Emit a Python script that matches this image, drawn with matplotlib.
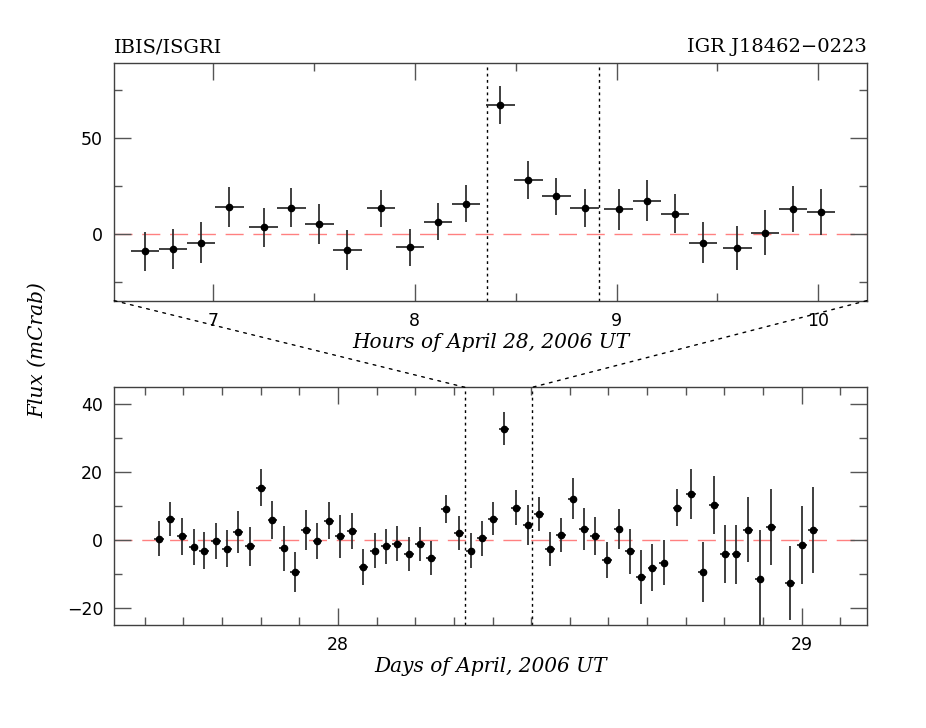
import numpy as np
import matplotlib.pyplot as plt
from matplotlib.patches import ConnectionPatch
from matplotlib.ticker import MultipleLocator

plt.rcParams['font.family'] = ['DejaVu Serif']

# ---- top panel: zoom on the flare (hours of April 28) ----
hours = [6.662, 6.802, 6.941, 7.081, 7.250, 7.388, 7.527, 7.666, 7.834, 7.975,
         8.113, 8.252, 8.424, 8.563, 8.702, 8.841, 9.010, 9.149, 9.288, 9.427,
         9.599, 9.736, 9.875, 10.014]
hour_flux = [-9.3, -8.0, -4.7, 13.8, 3.3, 13.6, 5.2, -8.6, 13.2, -7.2,
             6.3, 15.7, 67.3, 28.0, 19.5, 13.4, 12.7, 17.3, 10.5, -4.7,
             -7.5, 0.5, 12.7, 11.3]
hour_err = [10.2, 10.3, 10.8, 10.4, 10.3, 10.1, 10.5, 10.5, 9.7, 9.8,
            9.6, 9.8, 9.8, 10.1, 9.7, 9.9, 10.7, 10.5, 10.3, 10.6,
            11.5, 11.7, 12.0, 12.0]
hour_halfbin = 0.07
flare_marks_hr = [8.357, 8.912]
hour_lim = (6.51, 10.24)

# ---- bottom panel: ScW light curve (days of April 2006) ----
days = [27.614, 27.639, 27.664, 27.689, 27.712, 27.737, 27.761, 27.785, 27.810, 27.834,
        27.859, 27.883, 27.908, 27.932, 27.956, 27.981, 28.004, 28.030, 28.055, 28.079,
        28.103, 28.128, 28.154, 28.177, 28.201, 28.232, 28.261, 28.286, 28.310, 28.335,
        28.358, 28.384, 28.409, 28.433, 28.457, 28.481, 28.506, 28.531, 28.555, 28.580,
        28.605, 28.629, 28.654, 28.678, 28.702, 28.732, 28.761, 28.786, 28.810, 28.835,
        28.859, 28.884, 28.909, 28.934, 28.975, 29.000, 29.024]
day_flux = [0.4, 6.2, 1.1, -2.0, -3.1, -0.2, -2.5, 2.3, -1.8, 15.4,
            6.0, -2.4, -9.5, 2.9, -0.3, 5.7, 1.1, 2.7, -7.9, -3.1,
            -1.8, -1.1, -4.1, -1.2, -5.3, 9.2, 2.1, -3.1, 0.5, 6.3,
            32.8, 9.6, 4.4, 7.7, -2.6, 1.6, 12.2, 3.2, 1.2, -5.8,
            3.3, -3.3, -10.8, -8.1, -6.6, 9.6, 13.6, -9.4, 10.3, -4.0,
            -4.2, 3.1, -11.5, 3.9, -12.6, -1.5, 3.0]
day_err = [5.1, 5.0, 5.5, 5.2, 5.4, 5.3, 5.4, 6.2, 5.8, 5.5,
           5.6, 6.6, 5.9, 5.9, 5.4, 5.5, 6.4, 5.2, 5.2, 5.1,
           5.1, 5.2, 5.1, 5.1, 4.9, 4.1, 5.1, 5.2, 5.1, 4.8,
           4.9, 5.3, 5.8, 5.0, 5.1, 5.0, 6.0, 6.2, 5.7, 5.3,
           6.0, 6.7, 7.9, 6.9, 6.7, 5.4, 7.3, 8.9, 8.5, 8.5,
           8.7, 9.5, 14.4, 11.2, 11.0, 11.5, 12.7]
day_halfbin = 0.0105
zoom_marks_day = [28.274, 28.419]
day_lim = (27.518, 29.140)

FRAME = '#404040'
ERR = '#303030'
ZERO = '#ff8080'

fig = plt.figure(figsize=(9.26, 7.28), dpi=100)
ax1 = fig.add_axes([0.1234, 0.587, 0.8126, 0.326])
ax2 = fig.add_axes([0.1234, 0.1415, 0.8126, 0.3265])

def style(ax):
    for s in ax.spines.values():
        s.set_color(FRAME)
        s.set_linewidth(1.0)
    ax.tick_params(which='both', direction='in', top=True, right=True,
                   color='#555555', labelsize=12.5, pad=8)
    ax.tick_params(which='major', length=12, width=1.0)
    ax.tick_params(which='minor', length=6, width=1.0)
    for lab in ax.get_xticklabels() + ax.get_yticklabels():
        lab.set_family('DejaVu Sans')

# top
ax1.axhline(0, color=ZERO, lw=1.0, dashes=(13, 7), zorder=1)
for xm in flare_marks_hr:
    ax1.axvline(xm, color='black', lw=1.0, ls=(0, (2, 2.5)), zorder=1)
ax1.errorbar(hours, hour_flux, yerr=hour_err, xerr=hour_halfbin, fmt='o',
             color='black', ms=4.5, ecolor=ERR, elinewidth=1.3, capsize=0, zorder=3)
ax1.set_xlim(*hour_lim)
ax1.set_ylim(-35, 89)
ax1.xaxis.set_major_locator(MultipleLocator(1))
ax1.xaxis.set_minor_locator(MultipleLocator(0.5))
ax1.yaxis.set_major_locator(MultipleLocator(50))
ax1.yaxis.set_minor_locator(MultipleLocator(25))
style(ax1)
ax1.set_xlabel('Hours of April 28, 2006 UT', fontsize=14.5, style='italic', labelpad=2)
ax1.text(0.0, 1.03, 'IBIS/ISGRI', transform=ax1.transAxes, fontsize=14,
         ha='left', va='bottom')
ax1.text(1.0, 1.03, 'IGR J18462\u22120223', transform=ax1.transAxes, fontsize=14,
         ha='right', va='bottom')

# bottom
ax2.axhline(0, color=ZERO, lw=1.0, dashes=(13, 7), zorder=1)
for xm in zoom_marks_day:
    ax2.axvline(xm, color='black', lw=1.0, ls=(0, (2, 2.5)), zorder=1)
ax2.errorbar(days, day_flux, yerr=day_err, xerr=day_halfbin, fmt='o',
             color='black', ms=4.5, ecolor=ERR, elinewidth=1.3, capsize=0, zorder=3)
ax2.set_xlim(*day_lim)
ax2.set_ylim(-25, 45)
ax2.xaxis.set_major_locator(MultipleLocator(1))
ax2.xaxis.set_minor_locator(MultipleLocator(1 / 12))
ax2.yaxis.set_major_locator(MultipleLocator(20))
ax2.yaxis.set_minor_locator(MultipleLocator(10))
style(ax2)
ax2.set_xlabel('Days of April, 2006 UT', fontsize=14.5, style='italic', labelpad=2)

# dotted connectors from top-panel corners to the zoom marks
for xa, xb in [(hour_lim[0], zoom_marks_day[0]), (hour_lim[1], zoom_marks_day[1])]:
    con = ConnectionPatch(xyA=(xa, -35), coordsA=ax1.transData,
                          xyB=(xb, 45), coordsB=ax2.transData,
                          color='black', lw=1.0, ls=(0, (2, 4)))
    fig.add_artist(con)

fig.text(0.041, 0.519, 'Flux (mCrab)', rotation=90, fontsize=14.5, style='italic',
         ha='center', va='center')

fig.savefig('out.png', dpi=100)
